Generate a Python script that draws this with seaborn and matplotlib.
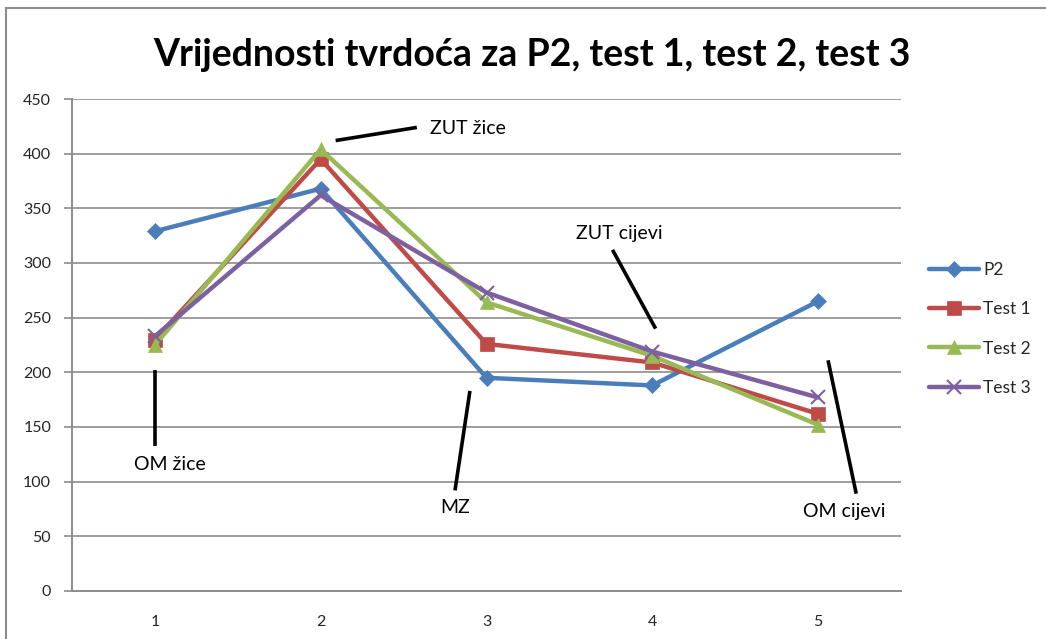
import matplotlib
matplotlib.use("Agg")
import matplotlib.pyplot as plt
from matplotlib.lines import Line2D
from matplotlib.patches import Rectangle
import pandas as pd
import seaborn as sns

# Hardness measurements at five positions
positions = [1, 2, 3, 4, 5]
p2 = [329, 368, 195, 188, 265]
test1 = [230, 395, 226, 209, 162]
test2 = [225, 404, 264, 215, 152]
test3 = [233, 362, 273, 219, 177]

series_names = ["P2", "Test 1", "Test 2", "Test 3"]
series_values = [p2, test1, test2, test3]
colors = ["#4A7EBB", "#BE4B48", "#98B954", "#7D60A0"]
markers = ["D", "s", "^", "x"]
marker_sizes = [8, 10, 10, 10]

yticks = [0, 50, 100, 150, 200, 250, 300, 350, 400, 450]
title = "Vrijednosti tvrdoća za P2, test 1, test 2, test 3"

# Zone labels with their pointer lines (text position, line start, line end)
zone_labels = [
    ("OM žice", (1.09, 116), (1.0, 202), (1.0, 133), "center"),
    ("ZUT žice", (2.66, 423), (2.09, 412), (2.58, 424), "left"),
    ("MZ", (2.81, 76), (2.90, 183), (2.81, 92), "center"),
    ("ZUT cijevi", (3.80, 327), (3.76, 312), (4.02, 240), "center"),
    ("OM cijevi", (5.16, 73), (5.06, 211), (5.23, 89), "center"),
]

rows = []
for name, vals in zip(series_names, series_values):
    for x, v in zip(positions, vals):
        rows.append({"Pozicija": x, "Tvrdoća": v, "Serija": name})
df = pd.DataFrame(rows)

sns.set_theme(style="white")
plt.rcParams["font.family"] = ["Lato", "DejaVu Sans"]

fig = plt.figure(figsize=(10.46, 6.39), dpi=100)
ax = fig.add_axes([72 / 1046, 1 - 591 / 639, (901 - 72) / 1046, (591 - 99) / 639])

grid_color = "#8C8C8C"
for y in yticks[1:]:
    ax.axhline(y, color=grid_color, lw=1.2, zorder=0)

for name, col, mk, ms in zip(series_names, colors, markers, marker_sizes):
    sub = df[df["Serija"] == name]
    sns.lineplot(data=sub, x="Pozicija", y="Tvrdoća", ax=ax, color=col,
                 marker=mk, markersize=ms, lw=3.2, markeredgecolor=col,
                 markeredgewidth=1.5 if mk == "x" else 0.5, label=name,
                 legend=False, zorder=3)

for text, tpos, p0, p1, ha in zone_labels:
    ax.plot([p0[0], p1[0]], [p0[1], p1[1]], color="black", lw=2.6,
            solid_capstyle="butt", zorder=4)
    ax.text(tpos[0], tpos[1], text, ha=ha, va="center", fontsize=14,
            color="black", zorder=5)

ax.set_xlim(0.5, 5.5)
ax.set_ylim(0, 450)
ax.set_yticks(yticks)
ax.set_yticklabels([str(v) for v in yticks], fontsize=11.5)
ax.set_xticks(positions)
ax.set_xticklabels([str(p) for p in positions], fontsize=11.5)
ax.set_xticks([0.5, 1.5, 2.5, 3.5, 4.5, 5.5], minor=True)
ax.tick_params(axis="x", which="major", length=0, pad=17)
ax.tick_params(axis="x", which="minor", length=6, color=grid_color, width=1.2)
ax.tick_params(axis="y", length=6, color=grid_color, width=1.2, pad=9, left=True)
ax.set_xlabel("")
ax.set_ylabel("")
for side in ["top", "right"]:
    ax.spines[side].set_visible(False)
for side in ["left", "bottom"]:
    ax.spines[side].set_color(grid_color)
    ax.spines[side].set_linewidth(1.4)

handles = [Line2D([0], [0], color=c, lw=3.2, marker=m, markersize=s,
                  markeredgecolor=c, markeredgewidth=1.5 if m == "x" else 0.5)
           for c, m, s in zip(colors, markers, marker_sizes)]
fig.legend(handles, series_names, loc="upper left",
           bbox_to_anchor=(913 / 1046, 1 - 246 / 639), frameon=False,
           fontsize=12.5, handlelength=2.9, labelspacing=1.35,
           handletextpad=0.25)

fig.text(532 / 1046, 1 - 55 / 639, title, ha="center", va="center",
         fontsize=27, fontweight="bold", color="black")

fig.patches.append(Rectangle((6 / 1046, -0.01), 1.0, 1 - 8 / 639 + 0.01,
                             transform=fig.transFigure, fill=False,
                             edgecolor="#8C8C8C", lw=1.5))

fig.savefig("out.png", dpi=100)
